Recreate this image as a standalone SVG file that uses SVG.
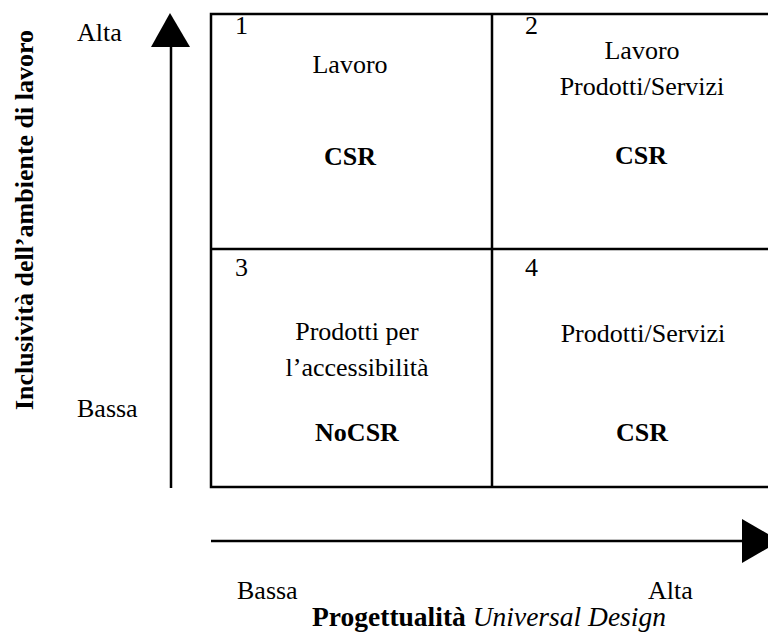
<svg xmlns="http://www.w3.org/2000/svg" width="768" height="637" viewBox="0 0 768 637">
<style>
  .t { font-size: 26px; fill: #000; }
  .m { text-anchor: middle; }
  .b { font-weight: bold; }
  .ln { stroke: #000; stroke-width: 2.5; fill: none; }
</style>
<rect width="768" height="637" fill="#fff"/>
<g id="connectors">
  <line class="ln" x1="171" y1="488" x2="171" y2="47"/>
  <polygon points="170,13 151,47 190,47" fill="#000"/>
  <line class="ln" x1="211" y1="541" x2="744" y2="541"/>
  <polygon points="742,519 742,563 780,541" fill="#000"/>
</g>
<g id="grid">
  <rect class="ln" x="211" y="14" width="590" height="473"/>
  <line class="ln" x1="492" y1="14" x2="492" y2="487"/>
  <line class="ln" x1="211" y1="249" x2="801" y2="249"/>
</g>
<g id="cell1">
  <text class="t" font-family="Liberation Serif" x="235" y="34">1</text>
  <text class="t m" font-family="Liberation Serif" x="350" y="73">Lavoro</text>
  <text class="t m b" font-family="Liberation Serif" x="350" y="165">CSR</text>
</g>
<g id="cell2">
  <text class="t" font-family="Liberation Serif" x="525" y="34">2</text>
  <text class="t m" font-family="Liberation Serif" x="642" y="59">Lavoro</text>
  <text class="t m" font-family="Liberation Serif" x="642" y="95">Prodotti/Servizi</text>
  <text class="t m b" font-family="Liberation Serif" x="641" y="164">CSR</text>
</g>
<g id="cell3">
  <text class="t" font-family="Liberation Serif" x="235" y="276">3</text>
  <text class="t m" font-family="Liberation Serif" x="357" y="340">Prodotti per</text>
  <text class="t m" font-family="Liberation Serif" x="357" y="376">l’accessibilità</text>
  <text class="t m b" font-family="Liberation Serif" x="357" y="441">NoCSR</text>
</g>
<g id="cell4">
  <text class="t" font-family="Liberation Serif" x="525" y="276">4</text>
  <text class="t m" font-family="Liberation Serif" x="643" y="342">Prodotti/Servizi</text>
  <text class="t m b" font-family="Liberation Serif" x="642" y="441">CSR</text>
</g>
<g id="axis-labels">
  <text class="t" font-family="Liberation Serif" x="77" y="41">Alta</text>
  <text class="t" font-family="Liberation Serif" x="77" y="417">Bassa</text>
  <text class="t" font-family="Liberation Serif" x="237" y="599">Bassa</text>
  <text class="t" font-family="Liberation Serif" x="648" y="599">Alta</text>
  <text class="t m b" font-family="Liberation Serif" font-size="27.5" style="font-size:27.5px" x="489" y="626">Progettualità <tspan font-style="italic" font-weight="normal">Universal Design</tspan></text>
  <text class="t m b" font-family="Liberation Serif" transform="translate(33,220) rotate(-90)">Inclusività dell’ambiente di lavoro</text>
</g>
</svg>
